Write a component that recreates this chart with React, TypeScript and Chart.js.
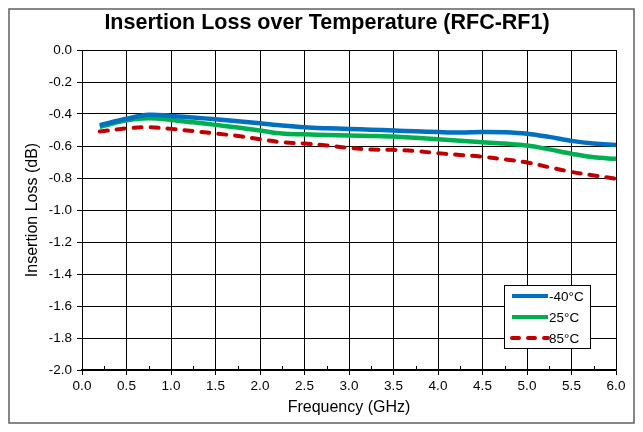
import React, { useEffect, useRef } from "react";
import { Chart, registerables } from "chart.js";

Chart.register(...registerables);

const freqGHz = [0.2, 0.5, 0.75, 1.0, 1.25, 1.5, 1.75, 2.0, 2.25, 2.5, 2.75, 3.0, 3.25, 3.5, 3.75, 4.0, 4.25, 4.5, 4.75, 5.0, 5.25, 5.5, 5.75, 6.0];
const lossM40 = [-0.47, -0.43, -0.405, -0.412, -0.422, -0.433, -0.445, -0.458, -0.472, -0.483, -0.489, -0.493, -0.498, -0.503, -0.508, -0.513, -0.516, -0.512, -0.514, -0.523, -0.543, -0.568, -0.585, -0.594];
const loss25 = [-0.48, -0.44, -0.427, -0.437, -0.452, -0.468, -0.485, -0.503, -0.522, -0.527, -0.531, -0.534, -0.537, -0.541, -0.549, -0.558, -0.567, -0.576, -0.585, -0.597, -0.621, -0.648, -0.671, -0.68];
const loss85 = [-0.51, -0.49, -0.483, -0.493, -0.507, -0.522, -0.537, -0.558, -0.577, -0.585, -0.597, -0.612, -0.622, -0.624, -0.632, -0.645, -0.656, -0.667, -0.684, -0.703, -0.733, -0.762, -0.784, -0.805];
const seriesLabels = ["-40°C", "25°C", "85°C"];
const seriesColors = ["#0070C0", "#00B050", "#C00000"];
const titleText = "Insertion Loss over Temperature (RFC-RF1)";
const xTitle = "Frequency (GHz)";
const yTitle = "Insertion Loss (dB)";

const FONT = "Arial, 'Liberation Sans', sans-serif";

const decorPlugin = {
  id: "decor",
  beforeDraw(chart: any) {
    const { ctx, width, height } = chart;
    ctx.save();
    ctx.fillStyle = "#fff";
    ctx.fillRect(0, 0, width, height);
    ctx.strokeStyle = "#5f5f5f";
    ctx.lineWidth = 1.5;
    ctx.strokeRect(9, 9, width - 18, height - 18);
    ctx.fillStyle = "#000";
    ctx.font = `bold 21.5px ${FONT}`;
    ctx.textAlign = "center";
    ctx.textBaseline = "middle";
    ctx.fillText(titleText, 327, 23);
    ctx.restore();
  },
  afterDatasetsDraw(chart: any) {
    const { ctx, chartArea, scales } = chart;
    const xs = scales.x;
    ctx.save();
    ctx.strokeStyle = "#000";
    ctx.lineWidth = 1;
    for (let v = 0.25; v < 6; v += 0.5) {
      const px = Math.round(xs.getPixelForValue(v)) + 0.5;
      ctx.beginPath();
      ctx.moveTo(px, chartArea.bottom);
      ctx.lineTo(px, chartArea.bottom - 4);
      ctx.stroke();
    }
    const bx = chartArea.right - 112;
    const by = chartArea.bottom - 85;
    const bw = 86;
    const bh = 63;
    ctx.fillStyle = "#fff";
    ctx.fillRect(bx, by, bw, bh);
    ctx.strokeStyle = "#000";
    ctx.lineWidth = 1;
    ctx.strokeRect(Math.round(bx) + 0.5, Math.round(by) + 0.5, bw, bh);
    ctx.font = `13.5px ${FONT}`;
    ctx.textAlign = "left";
    ctx.textBaseline = "middle";
    seriesLabels.forEach((lab, i) => {
      const y = by + 11 + i * 21;
      ctx.beginPath();
      ctx.strokeStyle = seriesColors[i];
      ctx.lineWidth = 4;
      if (i === 2) {
        ctx.setLineDash([7, 9]);
        ctx.lineCap = "round";
      } else {
        ctx.setLineDash([]);
        ctx.lineCap = "butt";
      }
      ctx.moveTo(bx + 8, y);
      ctx.lineTo(bx + 44, y);
      ctx.stroke();
      ctx.setLineDash([]);
      ctx.fillStyle = "#000";
      ctx.fillText(lab, bx + 45, y + 1);
    });
    ctx.restore();
  },
};

export default function App() {
  const ref = useRef<HTMLCanvasElement>(null);
  useEffect(() => {
    if (!ref.current) return;
    const mk = (vals: number[]) => freqGHz.map((f, i) => ({ x: f, y: vals[i] }));
    const chart = new Chart(ref.current, {
      type: "line",
      data: {
        datasets: [
          { label: seriesLabels[0], data: mk(lossM40), borderColor: seriesColors[0], borderWidth: 4.5, pointRadius: 0, tension: 0.35, fill: false },
          { label: seriesLabels[1], data: mk(loss25), borderColor: seriesColors[1], borderWidth: 4.5, pointRadius: 0, tension: 0.35, fill: false },
          { label: seriesLabels[2], data: mk(loss85), borderColor: seriesColors[2], borderWidth: 4, borderDash: [8, 9], borderCapStyle: "round", pointRadius: 0, tension: 0.35, fill: false },
        ],
      },
      options: {
        responsive: false,
        animation: false,
        layout: { padding: { top: 50, right: 27, bottom: 0, left: 0 } },
        plugins: { legend: { display: false }, tooltip: { enabled: false }, title: { display: false } },
        scales: {
          x: {
            type: "linear",
            min: 0,
            max: 6,
            afterFit: (s: any) => { s.height = 62; },
            ticks: { stepSize: 0.5, color: "#000", font: { family: FONT, size: 13.5 }, padding: 3, callback: (v: any) => Number(v).toFixed(1), maxRotation: 0 },
            grid: { color: "#000", lineWidth: 1, tickLength: 5, drawTicks: true },
            border: { color: "#000", width: 1.5 },
            title: { display: true, text: xTitle, color: "#000", font: { family: FONT, size: 16 }, padding: { top: 0, bottom: 15 } },
          },
          y: {
            min: -2,
            max: 0,
            afterFit: (s: any) => { s.width = 82; },
            ticks: { stepSize: 0.2, color: "#000", font: { family: FONT, size: 13.5 }, padding: 5, callback: (v: any) => Number(v).toFixed(1) },
            grid: { color: "#000", lineWidth: 1, tickLength: 5, drawTicks: true },
            border: { color: "#000", width: 1 },
            title: { display: true, text: yTitle, color: "#000", font: { family: FONT, size: 16 }, padding: { top: 23, bottom: 0 } },
          },
        },
      },
      plugins: [decorPlugin],
    });
    return () => chart.destroy();
  }, []);
  return (
    <div style={{ position: "fixed", left: 0, top: 0, width: 643, height: 432, background: "#fff" }}>
      <canvas ref={ref} width={643} height={432} style={{ display: "block", width: 643, height: 432 }} />
    </div>
  );
}
